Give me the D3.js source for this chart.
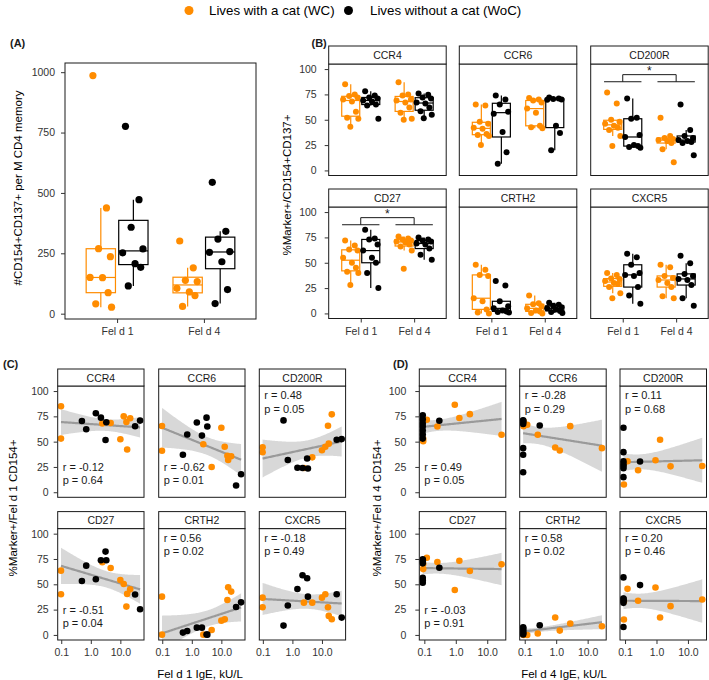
<!DOCTYPE html>
<html><head><meta charset="utf-8">
<script src="https://cdn.jsdelivr.net/npm/d3@7"></script>
<style>body{margin:0;background:#fff}svg{display:block}</style>
</head><body><svg id="c" width="709" height="680"></svg>
<script>
// ---------------- DATA ----------------
const groupLabels = ["Lives with a cat (WC)", "Lives without a cat (WoC)"];
const allergens = ["Fel d 1", "Fel d 4"];
const markers = ["CCR4", "CCR6", "CD200R", "CD27", "CRTH2", "CXCR5"];

// Panel A: #CD154+CD137+ per M CD4 memory
const countFeld1WC  = [986, 438, 269, 236, 150, 149, 87, 41, 27];
const countFeld1WoC = [776, 472, 358, 268, 252, 207, 192, 115];
const countFeld4WC  = [301, 190, 138, 133, 105, 90, 75, 30];
const countFeld4WoC = [544, 341, 309, 257, 254, 215, 100, 42];
const countTicks = [0, 250, 500, 750, 1000];

// Panel B: %Marker+/CD154+CD137+  [Fel d 1 WC, Fel d 1 WoC, Fel d 4 WC, Fel d 4 WoC]
const bCCR4   = [[85, 75, 73.5, 72, 70, 68, 58, 52, 51, 43], [78, 74, 72, 71, 69, 68, 65, 64, 51], [87, 75, 74, 70, 69, 67, 62, 57, 51, 50], [76, 74.6, 72, 71, 67, 66, 62, 58.5, 55, 51.5]];
const bCCR6   = [[65, 64, 48, 46, 42, 41, 36, 35, 34, 25], [74, 70, 65, 58, 56, 38, 18, 6.6], [71.4, 70, 69, 67, 61, 57, 44, 42.7, 41.7], [72, 71, 70.5, 70, 69.8, 44, 37, 20]];
const bCD200R = [[77, 66, 50, 48, 46, 44, 42, 40, 34, 24], [71, 52, 51, 35, 33, 25, 24, 23, 22.5], [52, 34, 32, 31, 30, 29, 27, 21, 8], [65, 40, 34, 32, 30, 29, 28, 27, 15]];
const bCD27   = [[72, 67, 63, 62, 55, 50, 45, 41, 40, 28], [82.5, 74, 73, 68, 62, 55, 50, 40, 25], [76, 74, 73, 72, 71, 70, 68, 66, 62, 44], [75, 73, 72, 71, 69, 68, 64, 58, 53]];
const bCRTH2  = [[48, 43, 38, 37, 15, 12, 4, 1, 0], [32, 27.5, 12, 7, 5, 3, 2, 1.5, 1], [17.6, 10, 9, 7, 5, 3, 2, 0.5, 0], [10.5, 8.5, 7.5, 6, 5, 4, 2.5, 1.5, 0.5]];
const bCXCR5  = [[40, 38, 34.5, 34, 32, 30, 29, 26, 20, 15], [59, 55.5, 48, 40, 38, 37, 26, 17.6, 9.6], [48, 45.5, 37, 35, 33, 30, 26, 17, 15], [57, 49.5, 39, 37, 34, 33, 28, 15, 7.6]];
const pctTicks = [0, 25, 50, 75, 100];
const sigMarkers = ["CD200R", "CD27"];
const sigLevels = [87.5, 94.5];
const sigLabel = "*";

// Panel C: Fel d 1 IgE (kU/L) vs %Marker+/Fel d 1 CD154+   [WC, WoC]
const cIgEWC  = [0.098, 0.098, 2.45, 4.7, 10, 13, 16, 17, 21.5];
const cIgEWoC = [0.5, 0.7, 1.48, 2.2, 3.15, 3.35, 31.5, 46.5];
const cCCR4   = [[85, 53, 68, 68.4, 52.3, 75, 69.4, 42.2, 73.2], [70.4, 62.2, 78, 73.7, 51.6, 69.1, 65.2, 70.8]];
const cCCR6   = [[65.4, 41, 47.5, 25, 63.7, 45, 36, 31.8, 35.5], [37, 57, 69, 56, 73.7, 65, 6.6, 17.8]];
const cCD200R = [[44.4, 39.5, 24, 34.5, 41.5, 45, 65.7, 48, 77], [71, 31.9, 24.2, 23.9, 33.3, 23.4, 51.9, 52.5]];
const cCD27   = [[63.5, 40.2, 71.7, 66.1, 54.3, 50.3, 28, 40.5, 45], [53.3, 68.4, 55, 73.7, 82.3, 73.7, 40, 25.3]];
const cCRTH2  = [[37.8, 0.3, 0.3, 4.9, 14.1, 15.4, 34.5, 47, 42.8], [2.3, 3.9, 7.2, 7.2, 0.5, 0.3, 27.6, 32.2]];
const cCXCR5  = [[36.8, 27.3, 31.9, 31.9, 36.8, 40.2, 27.3, 18.8, 15.5], [9.2, 29, 45.4, 58.9, 56, 37.8, 40.2, 17.1]];
const cR = ["-0.12", "-0.62", "0.48", "-0.51", "0.56", "-0.18"];
const cP = ["0.64", "0.01", "0.05", "0.04", "0.02", "0.49"];
const cLabelPos = ["bottom", "bottom", "top", "bottom", "top", "top"];

// Panel D: Fel d 4 IgE (kU/L) vs %Marker+/Fel d 4 CD154+   [WC, WoC]
const dIgEWC  = [0.092, 0.092, 0.12, 0.26, 0.93, 1.3, 2.8, 28.5];
const dIgEWoC = [0.089, 0.089, 0.089, 0.089, 0.089, 0.089, 0.089, 0.3];
const dCCR4   = [[50.5, 52.8, 71.7, 65, 86.5, 73.3, 77.2, 56.8], [76, 72, 68, 65, 61, 57, 53, 70.7]];
const dCCR6   = [[65.3, 70, 66.7, 56.8, 44.2, 41.2, 65.3, 43.6], [71, 69, 67.5, 43.6, 37, 19.8, 70.5, 66]];
const dCD200R = [[28.1, 7.6, 30.7, 21.8, 31.6, 51.9, 25.6, 25.9], [63.8, 39.6, 30.7, 28, 23.8, 14.9, 26, 30.4]];
const dCD27   = [[65, 70, 76.2, 72, 44.3, 73.3, 63.1, 69.7], [74.6, 72.5, 70.7, 56.4, 54.1, 51.5, 73.5, 66.3]];
const dCRTH2  = [[0, 0.5, 0, 1.4, 17.2, 4.3, 11.3, 8.6], [7.5, 6.9, 5.3, 3.8, 2.5, 1.4, 0.5, 9.6]];
const dCXCR5  = [[15.2, 33, 45.5, 33.7, 46.9, 17.2, 28.4, 35], [56.8, 35.6, 34, 33.3, 31.7, 7.9, 36, 49.2]];
const dR = ["0.49", "-0.28", "0.11", "-0.03", "0.58", "0.20"];
const dP = ["0.05", "0.29", "0.68", "0.91", "0.02", "0.46"];
const dLabelPos = ["bottom", "top", "top", "bottom", "top", "top"];
const igeTicks = [0.1, 1, 10];

// ---------------- STYLE / LAYOUT ----------------
const FONT = '"Liberation Sans", Arial, Helvetica, sans-serif';
const COLORS = ["#FF8C00", "#000000"];
const INK = "#1a1a1a";
const jit = [-0.7, 0.5, -0.2, 0.85, -0.95, 0.15, 0.65, -0.45, 0.95, -0.05, 0.35];
const dodge = [-0.1875, 0.1875], halfBox = 0.16875;
const svg = d3.select("#c");

function txt(x, y, s, o = {}) {
  return svg.append("text").attr("x", x).attr("y", y).text(s)
    .attr("font-family", FONT).attr("font-size", o.size || 10.5)
    .attr("fill", o.fill || INK).attr("text-anchor", o.anchor || "start")
    .attr("font-weight", o.weight || "normal").attr("dy", o.dy || "0.35em")
    .attr("transform", o.rot ? `rotate(-90,${x},${y})` : null);
}
function styleAxis(g) {
  g.select(".domain").remove();
  g.selectAll("line").attr("stroke", "#333").attr("stroke-width", 1);
  g.selectAll("text").attr("font-family", FONT).attr("font-size", 10.5).attr("fill", "#333");
}
function yAxis(x0, scale, pad) {
  const g = svg.append("g").attr("transform", `translate(${x0},0)`);
  g.call(d3.axisLeft(scale).tickValues(scale.__ticks).tickFormat(d3.format("d")).tickSize(4).tickPadding(pad));
  styleAxis(g);
}
function border(x0, y0, w, h) {
  svg.append("rect").attr("x", x0).attr("y", y0).attr("width", w).attr("height", h)
    .attr("fill", "none").attr("stroke", INK).attr("stroke-width", 1);
}
function strip(x0, y0, w, h, label) {
  svg.append("rect").attr("x", x0).attr("y", y0).attr("width", w).attr("height", h)
    .attr("fill", "#fff").attr("stroke", INK).attr("stroke-width", 1);
  txt(x0 + w / 2, y0 + h / 2 + 0.5, label, {anchor: "middle", size: 10.5});
}
function boxStats(v) {
  const s = [...v].sort(d3.ascending);
  const q1 = d3.quantileSorted(s, 0.25), med = d3.quantileSorted(s, 0.5), q3 = d3.quantileSorted(s, 0.75);
  const iqr = q3 - q1;
  return {q1, med, q3, lo: d3.min(s.filter(d => d >= q1 - 1.5 * iqr)), hi: d3.max(s.filter(d => d <= q3 + 1.5 * iqr))};
}
function boxPanel(x, y, sets, r, jw) {
  // sets: [d1WC, d1WoC, d4WC, d4WoC]
  const g = svg.append("g");
  sets.forEach((vals, k) => {
    const ci = Math.floor(k / 2), gi = k % 2, col = COLORS[gi];
    const cx = ci + 1 + dodge[gi], st = boxStats(vals);
    const sw = 1.2;
    g.append("line").attr("x1", x(cx)).attr("x2", x(cx)).attr("y1", y(st.hi)).attr("y2", y(st.q3)).attr("stroke", col).attr("stroke-width", sw);
    g.append("line").attr("x1", x(cx)).attr("x2", x(cx)).attr("y1", y(st.q1)).attr("y2", y(st.lo)).attr("stroke", col).attr("stroke-width", sw);
    g.append("rect").attr("x", x(cx - halfBox)).attr("width", x(cx + halfBox) - x(cx - halfBox))
      .attr("y", y(st.q3)).attr("height", y(st.q1) - y(st.q3)).attr("fill", "#fff").attr("stroke", col).attr("stroke-width", sw);
    g.append("line").attr("x1", x(cx - halfBox)).attr("x2", x(cx + halfBox)).attr("y1", y(st.med)).attr("y2", y(st.med)).attr("stroke", col).attr("stroke-width", sw);
  });
  sets.forEach((vals, k) => {
    const ci = Math.floor(k / 2), gi = k % 2;
    const cx = ci + 1 + dodge[gi];
    g.selectAll(null).data(vals).join("circle")
      .attr("cx", (d, i) => x(cx + jit[i % jit.length] * jw)).attr("cy", d => y(d))
      .attr("r", r).attr("fill", COLORS[gi]);
  });
}
function xCatAxis(y0, x) {
  const g = svg.append("g").attr("transform", `translate(0,${y0})`);
  g.call(d3.axisBottom(x).tickValues([1, 2]).tickFormat(d => allergens[d - 1]).tickSize(4).tickPadding(5));
  styleAxis(g);
}

// ---------------- LEGEND ----------------
svg.append("circle").attr("cx", 189).attr("cy", 10.5).attr("r", 4.5).attr("fill", COLORS[0]);
txt(209, 10.5, groupLabels[0], {size: 13.3, fill: "#000"});
svg.append("circle").attr("cx", 348.5).attr("cy", 10.5).attr("r", 4.5).attr("fill", COLORS[1]);
txt(370, 10.5, groupLabels[1], {size: 13.3, fill: "#000"});

// ---------------- PANEL A ----------------
{
  const L = 65, R = 256, T = 63, B = 319;
  const x = d3.scaleLinear().domain([0.4, 2.6]).range([L, R]);
  const y = d3.scaleLinear().domain([-22, 1038]).range([B, T]);
  y.__ticks = countTicks;
  boxPanel(x, y, [countFeld1WC, countFeld1WoC, countFeld4WC, countFeld4WoC], 3.6, 0.13);
  border(L, T, R - L, B - T);
  yAxis(L, y, 6);
  xCatAxis(B, x);
  txt(10, 43, "(A)", {weight: "bold", size: 11});
  txt(18, 188, "#CD154+CD137+ per M CD4 memory", {anchor: "middle", size: 11.5, rot: true, fill: "#000"});
}

// ---------------- PANEL B ----------------
{
  const bSets = [bCCR4, bCCR6, bCD200R, bCD27, bCRTH2, bCXCR5];
  const lefts = [328.7, 459.3, 590.7], W = 117.5;
  const rows = [{st: 46, pt: 64, pb: 175.5}, {st: 189, pt: 207, pb: 318.5}];
  markers.forEach((m, i) => {
    const row = rows[Math.floor(i / 3)], L = lefts[i % 3];
    const x = d3.scaleLinear().domain([0.4, 2.6]).range([L, L + W]);
    const y = d3.scaleLinear().domain([-5, 105]).range([row.pb, row.pt]);
    y.__ticks = pctTicks;
    boxPanel(x, y, bSets[i], 3, 0.15);
    if (sigMarkers.includes(m)) {
      const g = svg.append("g").attr("stroke", INK).attr("stroke-width", 1);
      [1, 2].forEach(c => {
        g.append("line").attr("x1", x(c - 0.35)).attr("x2", x(c + 0.35)).attr("y1", y(sigLevels[0])).attr("y2", y(sigLevels[0]));
        g.append("line").attr("x1", x(c)).attr("x2", x(c)).attr("y1", y(sigLevels[0])).attr("y2", y(sigLevels[1]));
      });
      g.append("line").attr("x1", x(1)).attr("x2", x(2)).attr("y1", y(sigLevels[1])).attr("y2", y(sigLevels[1]));
      txt(x(1.5), y(sigLevels[1]) - 1, sigLabel, {anchor: "middle", size: 12, dy: "0.1em"});
    }
    border(L, row.pt, W, row.pb - row.pt);
    strip(L, row.st, W, row.pt - row.st, m);
    if (i % 3 === 0) yAxis(L, y, 8);
    if (i >= 3) xCatAxis(row.pb, x);
  });
  txt(311.5, 43, "(B)", {weight: "bold", size: 11});
  txt(287, 185, "%Marker+/CD154+CD137+", {anchor: "middle", size: 11.5, rot: true, fill: "#000"});
}

// ---------------- PANELS C & D ----------------
const tCrit = {12: 2.179, 13: 2.160, 14: 2.145, 15: 2.131, 16: 2.120, 17: 2.110, 18: 2.101};
function lmBand(xs, ys) {
  const lx = xs.map(Math.log10), n = lx.length;
  const mx = d3.mean(lx), my = d3.mean(ys);
  let sxx = 0, sxy = 0;
  lx.forEach((v, i) => { sxx += (v - mx) ** 2; sxy += (v - mx) * (ys[i] - my); });
  const b = sxy / sxx, a = my - b * mx;
  let sse = 0; lx.forEach((v, i) => { sse += (ys[i] - a - b * v) ** 2; });
  const s = Math.sqrt(sse / (n - 2)), t = tCrit[n - 2] || 2.1;
  const x0 = d3.min(lx), x1 = d3.max(lx);
  return d3.range(81).map(k => {
    const v = x0 + (x1 - x0) * k / 80, f = a + b * v;
    const se = s * Math.sqrt(1 / n + (v - mx) ** 2 / sxx);
    return {x: 10 ** v, y: f, lo: f - t * se, hi: f + t * se};
  });
}
let clipId = 0;
function scatterPanel(cfg) {
  const {lefts, W, logDom, ige, sets, rr, pp, pos, label, labelX, title, xTitle, xTitleX, yPad} = cfg;
  const rows = [{st: 369, pt: 386, pb: 497.3}, {st: 511.6, pt: 528.6, pb: 640}];
  markers.forEach((m, i) => {
    const row = rows[Math.floor(i / 3)], L = lefts[i % 3];
    const x = d3.scaleLog().domain(logDom).range([L, L + W]);
    const y = d3.scaleLinear().domain([-5, 105]).range([row.pb, row.pt]);
    y.__ticks = pctTicks;
    const id = "clip" + (clipId++);
    svg.append("clipPath").attr("id", id).append("rect").attr("x", L).attr("y", row.pt).attr("width", W).attr("height", row.pb - row.pt);
    const g = svg.append("g").attr("clip-path", `url(#${id})`);
    const allX = ige[0].concat(ige[1]), allY = sets[i][0].concat(sets[i][1]);
    const band = lmBand(allX, allY);
    g.append("path").datum(band).attr("fill", "#BEBEBE").attr("fill-opacity", 0.6)
      .attr("d", d3.area().x(d => x(d.x)).y0(d => y(d.lo)).y1(d => y(d.hi)));
    g.append("path").datum(band).attr("fill", "none").attr("stroke", "#9a9a9a").attr("stroke-width", 2.2)
      .attr("d", d3.line().x(d => x(d.x)).y(d => y(d.y)));
    [0, 1].forEach(gi => {
      g.selectAll(null).data(sets[i][gi]).join("circle")
        .attr("cx", (d, k) => x(ige[gi][k])).attr("cy", d => y(d)).attr("r", 3.3).attr("fill", COLORS[gi]);
    });
    const ys = pos[i] === "top" ? [95.5, 82.5] : [24.5, 12];
    txt(L + 5, y(ys[0]), "r = " + rr[i], {size: 11});
    txt(L + 5, y(ys[1]), "p = " + pp[i], {size: 11});
    border(L, row.pt, W, row.pb - row.pt);
    strip(L, row.st, W, row.pt - row.st, m);
    if (i % 3 === 0) yAxis(L, y, yPad);
    if (i >= 3) {
      const ga = svg.append("g").attr("transform", `translate(0,${row.pb})`);
      ga.call(d3.axisBottom(x).tickValues(igeTicks).tickFormat(d3.format(".1f")).tickSize(4).tickPadding(5));
      styleAxis(ga);
    }
  });
  txt(labelX, 364, label, {weight: "bold", size: 11});
  txt(cfg.titleX, 508, title, {anchor: "middle", size: 11.5, rot: true, fill: "#000"});
  txt(xTitleX, 673.5, xTitle, {anchor: "middle", size: 11.5, fill: "#000"});
}
scatterPanel({
  lefts: [57.7, 158.7, 259.3], W: 86.3, logDom: [10 ** -1.12, 10 ** 1.8], ige: [cIgEWC, cIgEWoC],
  sets: [cCCR4, cCCR6, cCD200R, cCD27, cCRTH2, cCXCR5], rr: cR, pp: cP, pos: cLabelPos,
  label: "(C)", labelX: 3, title: "%Marker+/Fel d 1 CD154+", titleX: 13, xTitle: "Fel d 1 IgE, kU/L", xTitleX: 200, yPad: 5
});
scatterPanel({
  lefts: [419.3, 519.7, 620], W: 86.5, logDom: [10 ** -1.16, 10 ** 1.59], ige: [dIgEWC, dIgEWoC],
  sets: [dCCR4, dCCR6, dCD200R, dCD27, dCRTH2, dCXCR5], rr: dR, pp: dP, pos: dLabelPos,
  label: "(D)", labelX: 393, title: "%Marker+/Fel d 4 CD154+", titleX: 377, xTitle: "Fel d 4 IgE, kU/L", xTitleX: 564, yPad: 9
});
</script></body></html>
